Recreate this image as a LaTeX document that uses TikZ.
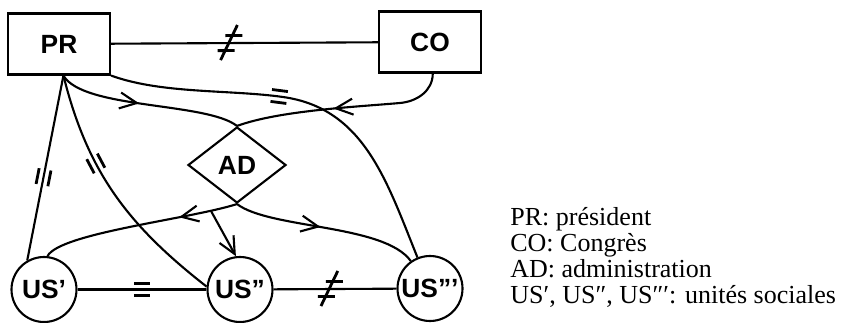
\documentclass[tikz,border=0pt]{standalone}
\usepackage{fontspec}
\setmainfont{Liberation Serif}
\setsansfont{Liberation Sans}
\usetikzlibrary{calc,positioning,arrows.meta,shapes.geometric,decorations.markings}
\tikzset{
  lnk/.style={line width=1.2pt},
  box/.style={draw,line width=1.2pt,minimum width=2.04cm,minimum height=1.22cm,font=\sffamily\bfseries\fontsize{15}{17}\selectfont},
  unit/.style={draw,circle,line width=1.2pt,minimum size=1.3cm,inner sep=0pt,font=\sffamily\bfseries\fontsize{15}{17}\selectfont},
  adm/.style={draw,diamond,line width=1.2pt,minimum width=1.96cm,minimum height=1.52cm,inner sep=0pt,font=\sffamily\bfseries\fontsize{15}{17}\selectfont},
  legend/.style={align=left,inner sep=0pt,font=\fontsize{14.8}{14.8}\selectfont},
  flow/.style={postaction={decorate,decoration={markings,mark=at position #1 with {\arrow{Straight Barb[length=3.4mm,width=3.2mm]}}}}},
  eqm/.style={postaction={decorate,decoration={markings,mark=at position #1 with {\draw[line width=1.6pt] (-0.16,0.12) -- (0.16,0.12) (-0.16,-0.12) -- (0.16,-0.12);}}}},
  neqm/.style={postaction={decorate,decoration={markings,mark=at position #1 with {\draw[line width=1.6pt] (-0.06,0.15) -- (0.28,0.15) (-0.22,-0.15) -- (0.12,-0.15) (0.18,0.36) -- (-0.16,-0.34);}}}},
}
\begin{document}
\begin{tikzpicture}
\useasboundingbox (0,0) rectangle (16.9,6.44);
\node[box] (PR) at (1.18,5.56) {PR};
\node[box] (CO) at (8.6,5.6) {CO};
\node[adm] (AD) at (4.74,3.14) {AD};
\node[unit] (US1) at (0.88,0.65) {US'};
\node[unit] (US2) at (4.8,0.65) {US''};
\node[unit] (US3) at (8.6,0.67) {US'''};
\coordinate (pr) at (PR.-82);

\draw[lnk,neqm=0.44] (PR) -- (CO);
\draw[lnk,eqm=0.55] (pr) -- (US1.120);
\draw[lnk,eqm=0.36] (pr) to[out=-76,in=142] (US2.175);
\draw[lnk,flow=0.45] (pr) to[out=-60,in=142,looseness=0.55] (AD.north);
\draw[lnk,eqm=0.43] (PR.south east) to[out=-20,in=172,looseness=0.8] (5.66,4.5)
  to[out=-8,in=112] (US3.112);
\draw[lnk,flow=0.54] (CO.-85) to[out=-90,in=5] (8.0,4.38)
  to[out=185,in=20,looseness=0.7] (AD.north);

\draw[lnk,flow=0.3] (AD.south) .. controls +(-0.94,-0.3) and +(0.24,0.46) .. coordinate[pos=0.15] (fork) (US1.84);
\draw[lnk,flow=0.47] (AD.south) .. controls +(0.66,-0.5) and +(-0.53,0.74) .. (US3.125);
\draw[lnk,-{Straight Barb[length=3.4mm,width=3.2mm]}] (fork) -- (US2.97);

\draw[lnk,eqm=0.5] (US1) -- (US2);
\draw[lnk,neqm=0.45] (US2) -- (US3);

\node[legend,anchor=north west] (key) at (10.2,2.3)
  {PR: président\\CO: Congrès\\AD: administration\\US′, US″, US″′: unités sociales};
\end{tikzpicture}
\end{document}
